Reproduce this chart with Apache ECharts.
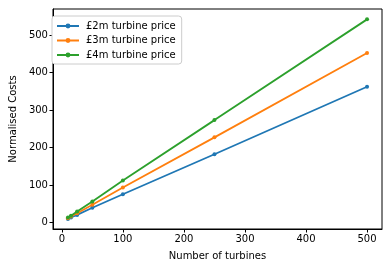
<!DOCTYPE html>
<html><head><meta charset="utf-8">
<script src="https://cdn.jsdelivr.net/npm/echarts@6/dist/echarts.min.js"></script>
<style>html,body{margin:0;padding:0;background:#fff}#c{width:392px;height:266px}</style>
</head><body><div id="c"></div>
<script>
const turbines = [10, 15, 25, 50, 100, 250, 500];
const price2m = [9, 13, 20, 39, 75, 182, 362];
const price3m = [11, 15.5, 24.5, 47, 93, 227, 452];
const price4m = [13, 18, 29, 56, 112, 273, 542];
const seriesNames = ['£2m turbine price', '£3m turbine price', '£4m turbine price'];
const xTicks = [0, 100, 200, 300, 400, 500];
const yTicks = [0, 100, 200, 300, 400, 500];
const colors = ['#1f77b4', '#ff7f0e', '#2ca02c'];
const font = 'DejaVu Sans';
const chart = echarts.init(document.getElementById('c'));
const mk = (name, vals, i) => ({
  name, type: 'line', data: turbines.map((t, j) => [t, vals[j]]),
  symbol: 'circle', symbolSize: 4, showSymbol: true,
  lineStyle: {width: 1.8, color: colors[i]}, itemStyle: {color: colors[i]},
  animation: false, z: 2 + i
});
chart.setOption({
  animation: false,
  textStyle: {fontFamily: font},
  grid: {left: 48, right: 10, top: 9, bottom: 37, show: true, borderColor: '#000', borderWidth: 1, backgroundColor: 'transparent'},
  legend: {
    orient: 'vertical', left: 52, top: 16, itemWidth: 22, itemHeight: 6, itemGap: 4.5,
    padding: [5, 6, 4, 4], borderColor: '#ccc', borderWidth: 1, borderRadius: 3, backgroundColor: '#fff',
    textStyle: {fontFamily: font, fontSize: 10, color: '#000', padding: [0, 0, 0, 2]},
    data: seriesNames
  },
  xAxis: {
    type: 'value', min: -14.5, max: 524.5,
    name: 'Number of turbines', nameLocation: 'middle', nameGap: 22,
    nameTextStyle: {fontFamily: font, fontSize: 10, color: '#000'},
    axisLine: {show: true, onZero: false, lineStyle: {color: '#000', width: 1}},
    axisTick: {show: true, length: 3.5, lineStyle: {color: '#000'}, customValues: xTicks},
    axisLabel: {fontFamily: font, fontSize: 10, color: '#000', margin: 5, customValues: xTicks},
    splitLine: {show: false}
  },
  yAxis: {
    type: 'value', min: -17.7, max: 569.7,
    name: 'Normalised Costs', nameLocation: 'middle', nameGap: 32,
    nameTextStyle: {fontFamily: font, fontSize: 10, color: '#000'},
    axisLine: {show: true, onZero: false, lineStyle: {color: '#000', width: 1}},
    axisTick: {show: true, length: 3.5, lineStyle: {color: '#000'}, customValues: yTicks},
    axisLabel: {fontFamily: font, fontSize: 10, color: '#000', margin: 5, customValues: yTicks},
    splitLine: {show: false}
  },
  series: [mk(seriesNames[0], price2m, 0), mk(seriesNames[1], price3m, 1), mk(seriesNames[2], price4m, 2)]
});
</script></body></html>
